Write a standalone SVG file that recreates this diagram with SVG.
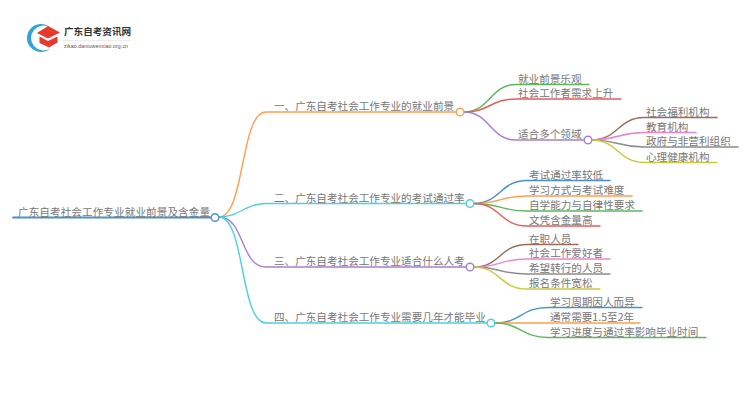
<svg xmlns="http://www.w3.org/2000/svg" width="750" height="410" viewBox="0 0 750 410">
<style>
text{font-family:"Noto Sans CJK SC","Liberation Sans",sans-serif;font-size:10.6px;fill:#777}
.c path{fill:none;stroke-width:1.4;stroke-linecap:round}
.d{fill:#fff;stroke-width:1.4}
.blue{stroke:#4a90d0}.orange{stroke:#ff9f4d}.cyan{stroke:#4dd0e1}.purple{stroke:#a67fd2}.green{stroke:#5cb85c}.red{stroke:#e85c5c}.brown{stroke:#9c6a5c}.pink{stroke:#ea85d0}.grey{stroke:#8c8c8c}.olive{stroke:#c9c93c}
</style>
<rect width="750" height="410" fill="#fff"/>
<g id="logo">
<path d="M50 27.300A14 14 0 1 0 50 48.700A12.500 12.500 0 1 1 50 27.300Z" fill="#2ea3dc"/>
<path d="M48 26L60 32.500L48 38.500L37 33Z" fill="#e8392f"/>
<path d="M39.500 36.500L48 41L57.500 36.500V42.500L49 47.500L39.500 43Z" fill="#e8392f"/>
<text x="64" y="35" style="font-size:9.600px;font-weight:700;fill:#333">广东自考资讯网</text>
<path d="M63 40.500H130" stroke="#e4e4e4" stroke-width="0.700" fill="none"/>
<text x="64" y="48" style="font-size:5.200px;font-family:'Liberation Sans',sans-serif;fill:#555" textLength="64">zikao.daniuwenxiao.org.cn</text>
</g>
<g id="connectors" class="c">
<path class="blue" d="M13 217.500H211" style="stroke-width:1.800"/>
<path class="orange" d="M219 217C245 217 240 112 266 112H456"/>
<path class="cyan" d="M219 217C240 217 245 203.500 266 203.500H466"/>
<path class="purple" d="M219 217C245 217 240 267 266 267H466"/>
<path class="cyan" d="M219 217C245 217 240 323 266 323H487"/>
<path class="green" d="M464 112C490 112 490 84.500 516 84.500H589"/>
<path class="red" d="M464 112C490 112 490 99 516 99H621"/>
<path class="purple" d="M464 112C490 112 490 140 516 140H584"/>
<path class="brown" d="M592 140C618 140 618 117.500 644 117.500H717"/>
<path class="pink" d="M592 140C618 140 618 132.500 644 132.500H696"/>
<path class="grey" d="M592 140C618 140 618 147 644 147H738"/>
<path class="olive" d="M592 140C618 140 618 162.500 644 162.500H717"/>
<path class="blue" d="M474 203.500C500 203.500 500 180.500 527 180.500H610"/>
<path class="orange" d="M474 203.500C500 203.500 500 196 527 196H632"/>
<path class="green" d="M474 203.500C500 203.500 500 211 527 211H642"/>
<path class="red" d="M474 203.500C500 203.500 500 226 527 226H600"/>
<path class="brown" d="M474 267C500 267 500 244.500 527 244.500H578"/>
<path class="pink" d="M474 267C500 267 500 259 527 259H610"/>
<path class="grey" d="M474 267C500 267 500 274 527 274H610"/>
<path class="olive" d="M474 267C500 267 500 289 527 289H600"/>
<path class="blue" d="M495 323C521 323 521 307.500 548 307.500H642"/>
<path class="orange" d="M495 323H640"/>
<path class="green" d="M495 323C521 323 521 337.500 548 337.500H706"/>
</g>
<g id="root"><circle class="d blue" cx="215" cy="217.500" r="3.800"/><text x="18" y="215.500" textLength="192">广东自考社会工作专业就业前景及含金量</text></g>
<g id="b1"><circle class="d orange" cx="460" cy="112" r="3.800"/><text x="274" y="110">一、广东自考社会工作专业的就业前景</text></g>
<g id="b2"><circle class="d cyan" cx="470" cy="203.500" r="3.800"/><text x="274" y="201.500">二、广东自考社会工作专业的考试通过率</text></g>
<g id="b3"><circle class="d purple" cx="470" cy="267" r="3.800"/><text x="274" y="265">三、广东自考社会工作专业适合什么人考</text></g>
<g id="b4"><circle class="d cyan" cx="491" cy="323" r="3.800"/><text x="274" y="321">四、广东自考社会工作专业需要几年才能毕业</text></g>
<g id="l1"><text x="518" y="82.500">就业前景乐观</text></g>
<g id="l2"><text x="518" y="97">社会工作者需求上升</text></g>
<g id="l3"><circle class="d purple" cx="588" cy="140" r="3.800"/><text x="518" y="138">适合多个领域</text></g>
<g id="l3a"><text x="646" y="115.500">社会福利机构</text></g>
<g id="l3b"><text x="646" y="130.500">教育机构</text></g>
<g id="l3c"><text x="646" y="145">政府与非营利组织</text></g>
<g id="l3d"><text x="646" y="160.500">心理健康机构</text></g>
<g id="l4"><text x="529" y="178.500">考试通过率较低</text></g>
<g id="l5"><text x="529" y="194">学习方式与考试难度</text></g>
<g id="l6"><text x="529" y="209">自学能力与自律性要求</text></g>
<g id="l7"><text x="529" y="224">文凭含金量高</text></g>
<g id="l8"><text x="529" y="242.500">在职人员</text></g>
<g id="l9"><text x="529" y="257">社会工作爱好者</text></g>
<g id="l10"><text x="529" y="272">希望转行的人员</text></g>
<g id="l11"><text x="529" y="287">报名条件宽松</text></g>
<g id="l12"><text x="550" y="305.500">学习周期因人而异</text></g>
<g id="l13"><text x="550" y="320.500">通常需要1.5至2年</text></g>
<g id="l14"><text x="550" y="335.500">学习进度与通过率影响毕业时间</text></g>
</svg>
